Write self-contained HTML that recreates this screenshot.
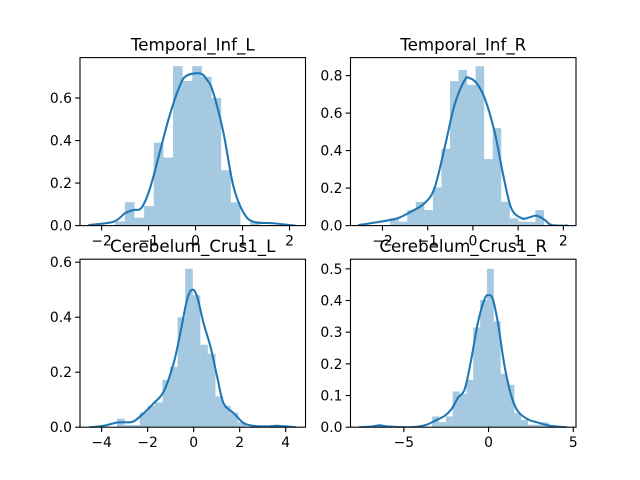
<!DOCTYPE html>
<html><head><meta charset="utf-8"><style>
html,body{margin:0;padding:0;background:#fff;}
svg{display:block;font-family:"DejaVu Sans","Liberation Sans",sans-serif;}
</style></head>
<body>
<svg id="fig" width="640" height="480" viewBox="0 0 640 480" xmlns="http://www.w3.org/2000/svg"></svg>
<script>
// Panel 1: Temporal_Inf_L
const p1BinStart = -1.71, p1BinWidth = 0.205;
const p1Bars = [0.02,0.11,0.037,0.092,0.39,0.32,0.75,0.68,0.75,0.70,0.60,0.26,0.11,0,0.02];
const p1KdeX = [-2.26,-1.75,-1.50,-1.33,-1.15,-0.97,-0.76,-0.55,-0.33,-0.19,0.09,0.23,0.37,0.59,0.80,1.01,1.23,1.65,2.11];
const p1KdeY = [0.003,0.018,0.058,0.073,0.084,0.175,0.347,0.52,0.66,0.705,0.716,0.69,0.63,0.44,0.19,0.065,0.018,0.011,0.0];
const p1XTicks = [-2,-1,0,1,2];
const p1YTicks = [0,0.2,0.4,0.6];
// Panel 2: Temporal_Inf_R
const p2BinStart = -1.83, p2BinWidth = 0.189;
const p2Bars = [0.039,0.021,0.083,0.127,0.083,0.204,0.41,0.77,0.83,0.75,0.85,0.355,0.52,0.127,0.039,0.021,0.02,0.083];
const p2KdeX = [-2.52,-2.04,-1.67,-1.37,-1.07,-0.85,-0.63,-0.41,-0.18,-0.07,0.08,0.26,0.48,0.67,0.85,1.08,1.22,1.41,1.59,1.74,2.08];
const p2KdeY = [0.003,0.021,0.039,0.074,0.119,0.199,0.41,0.64,0.777,0.786,0.76,0.68,0.50,0.27,0.092,0.039,0.042,0.053,0.03,0.003,0];
const p2XTicks = [-2,-1,0,1,2];
const p2YTicks = [0,0.2,0.4,0.6,0.8];
// Panel 3: Cerebelum_Crus1_L
const p3BinStart = -3.33, p3BinWidth = 0.329;
const p3Bars = [0.031,0.008,0.008,0.053,0.078,0.090,0.172,0.22,0.40,0.576,0.48,0.30,0.267,0.112,0.078,0.053,0.018,0,0,0,0.006];
const p3KdeX = [-4.49,-3.91,-3.33,-2.97,-2.61,-2.17,-1.74,-1.30,-0.87,-0.58,-0.29,-0.07,0.15,0.43,0.73,1.02,1.30,1.74,2.17,2.61,3.19,3.63,4.42];
const p3KdeY = [0,0.005,0.017,0.018,0.021,0.051,0.087,0.13,0.233,0.342,0.463,0.50,0.475,0.378,0.293,0.184,0.087,0.051,0.015,0.005,0.003,0.005,0];
const p3XTicks = [-4,-2,0,2,4];
const p3YTicks = [0,0.2,0.4,0.6];
// Panel 4: Cerebelum_Crus1_R
const p4BinStart = -6.56, p4BinWidth = 0.404;
const p4Bars = [0.005,0,0,0,0,0,0,0,0.034,0.016,0.034,0.113,0.105,0.150,0.315,0.402,0.50,0.334,0.169,0.134,0.044,0.023,0.008,0.008,0.015];
const p4KdeX = [-7.59,-6.90,-6.41,-5.92,-4.55,-3.76,-3.18,-2.59,-2.19,-1.81,-1.41,-1.02,-0.63,-0.24,0,0.25,0.55,0.94,1.34,1.72,2.31,2.90,3.69,4.57];
const p4KdeY = [0,0.002,0.006,0.002,0,0.006,0.02,0.036,0.057,0.093,0.12,0.215,0.33,0.404,0.417,0.404,0.33,0.194,0.099,0.051,0.025,0.015,0.004,0];
const p4XTicks = [-5,0,5];
const p4YTicks = [0,0.1,0.2,0.3,0.4,0.5];

const NS = "http://www.w3.org/2000/svg";
const svg = document.getElementById('fig');
function mk(tag, attrs, parent){
  const e = document.createElementNS(NS, tag);
  for (const k in attrs) e.setAttribute(k, attrs[k]);
  (parent||svg).appendChild(e); return e;
}
function fmt(v, dec){ const s = v.toFixed(dec); return s.replace('-', '\u2212'); }
function smoothPath(P){
  let d = 'M' + P[0][0].toFixed(2) + ',' + P[0][1].toFixed(2);
  for (let i = 0; i < P.length - 1; i++) {
    const p0 = P[Math.max(0,i-1)], p1 = P[i], p2 = P[i+1], p3 = P[Math.min(P.length-1,i+2)];
    const c1x = p1[0] + (p2[0]-p0[0])/6, c1y = p1[1] + (p2[1]-p0[1])/6;
    const c2x = p2[0] - (p3[0]-p1[0])/6, c2y = p2[1] - (p3[1]-p1[1])/6;
    d += ' C' + c1x.toFixed(2)+','+c1y.toFixed(2)+' '+c2x.toFixed(2)+','+c2y.toFixed(2)+' '+p2[0].toFixed(2)+','+p2[1].toFixed(2);
  }
  return d;
}

const panels = [
  {name:'temporal-inf-l', title:'Temporal_Inf_L', box:[80,57.6,225.5,168], xr:[-2.46,2.34], yr:[0,0.79], bs:p1BinStart, bw:p1BinWidth, bars:p1Bars, kx:p1KdeX, ky:p1KdeY, xt:p1XTicks, yt:p1YTicks, xd:0, yd:1},
  {name:'temporal-inf-r', title:'Temporal_Inf_R', box:[350.5,57.6,225.5,168], xr:[-2.707,2.28], yr:[0,0.896], bs:p2BinStart, bw:p2BinWidth, bars:p2Bars, kx:p2KdeX, ky:p2KdeY, xt:p2XTicks, yt:p2YTicks, xd:0, yd:1},
  {name:'cerebelum-crus1-l', title:'Cerebelum_Crus1_L', box:[80,259.2,225.5,168], xr:[-4.94,4.86], yr:[0,0.611], bs:p3BinStart, bw:p3BinWidth, bars:p3Bars, kx:p3KdeX, ky:p3KdeY, xt:p3XTicks, yt:p3YTicks, xd:0, yd:1},
  {name:'cerebelum-crus1-r', title:'Cerebelum_Crus1_R', box:[350.5,259.2,225.5,168], xr:[-8.15,5.16], yr:[0,0.5305], bs:p4BinStart, bw:p4BinWidth, bars:p4Bars, kx:p4KdeX, ky:p4KdeY, xt:p4XTicks, yt:p4YTicks, xd:0, yd:1},
];

panels.forEach(p => {
  const [L,T,W,H] = p.box;
  const sx = v => L + (v - p.xr[0]) / (p.xr[1]-p.xr[0]) * W;
  const sy = v => T + H - (v - p.yr[0]) / (p.yr[1]-p.yr[0]) * H;
  const g = mk('g', {});
  
  
  const cp = mk('clipPath', {id:'c-'+p.name}, g);
  mk('rect', {x:L, y:T, width:W, height:H}, cp);
  const bg = mk('g', {'clip-path':'url(#c-'+p.name+')'}, g);
  
  
  p.bars.forEach((v,i) => {
    if (v <= 0) return;
    const x0 = sx(p.bs + i*p.bw), x1 = sx(p.bs + (i+1)*p.bw);
    const r = mk('rect', {x:x0, y:sy(v), width:x1-x0, height:sy(0)-sy(v), fill:'#1f77b4', 'fill-opacity':0.4}, bg);
    
    
  });
  const P = p.kx.map((x,i) => [sx(x), sy(p.ky[i])]);
  const line = mk('path', {d:smoothPath(P), fill:'none', stroke:'#1f77b4', 'stroke-width':2.08, 'stroke-linejoin':'round', 'stroke-linecap':'square'}, bg);
  
  
  const fr = mk('rect', {x:L, y:T, width:W, height:H, fill:'none', stroke:'#000', 'stroke-width':1.1}, g);
  
  
  p.xt.forEach(t => {
    const x = sx(t);
    mk('line', {x1:x, x2:x, y1:T+H, y2:T+H+4.9, stroke:'#000', 'stroke-width':1.1}, g);
    const tx = mk('text', {x:x, y:T+H+20, 'font-size':13.9, 'text-anchor':'middle', fill:'#000'}, g);
    tx.textContent = fmt(t, p.xd);
    
    
  });
  p.yt.forEach(t => {
    const y = sy(t);
    mk('line', {x1:L-4.9, x2:L, y1:y, y2:y, stroke:'#000', 'stroke-width':1.1}, g);
    const tx = mk('text', {x:L-8, y:y+5, 'font-size':13.9, 'text-anchor':'end', fill:'#000'}, g);
    tx.textContent = fmt(t, p.yd);
    
    
  });
  const ti = mk('text', {x:L+W/2, y:T-7, 'font-size':16.7, 'text-anchor':'middle', fill:'#000'}, g);
  ti.textContent = p.title;
  
  
});
</script>
</body></html>
